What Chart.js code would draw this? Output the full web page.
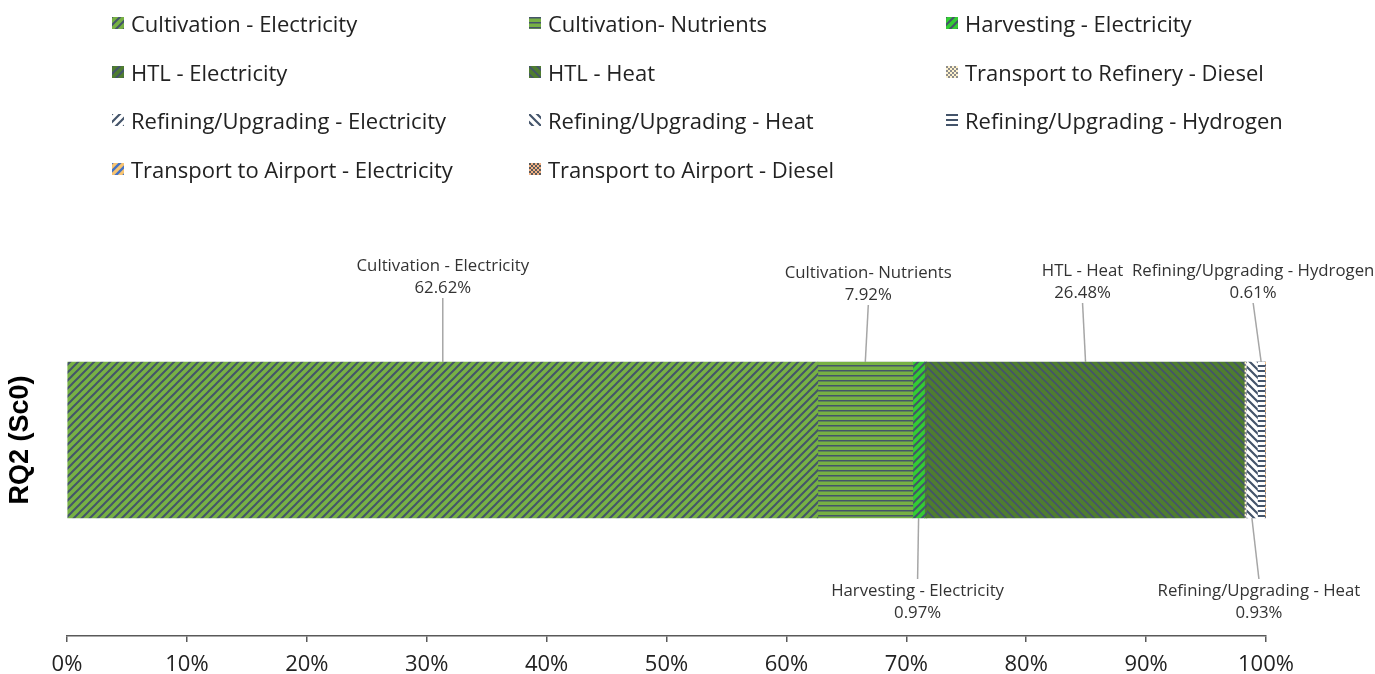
<!DOCTYPE html>
<html>
<head>
<meta charset="utf-8">
<script src="https://cdn.jsdelivr.net/npm/chart.js@4.4.1/dist/chart.umd.min.js"></script>
<style>
  body { margin: 0; background: #fff; }
  #wrap { position: relative; width: 1375px; height: 674px; }
  #legend { position: absolute; left: 0; top: 0; width: 1375px; height: 200px; font-family: "Open Sans", sans-serif; font-size: 22px; color: #222; }
  .item { position: absolute; display: flex; align-items: center; white-space: nowrap; }
  .item canvas { width: 12px; height: 12px; margin-right: 7px; }
</style>
</head>
<body>
<div id="wrap">
  <canvas id="chart"></canvas>
  <div id="legend"></div>
</div>
<script>
const categories = ['RQ2 (Sc0)'];
const seriesNames = [
  'Cultivation - Electricity',
  'Cultivation- Nutrients',
  'Harvesting - Electricity',
  'HTL - Electricity',
  'HTL - Heat',
  'Transport to Refinery - Diesel',
  'Refining/Upgrading - Electricity',
  'Refining/Upgrading - Heat',
  'Refining/Upgrading - Hydrogen',
  'Transport to Airport - Electricity',
  'Transport to Airport - Diesel'
];
const seriesValues = [62.62, 7.92, 0.97, 0.20, 26.48, 0.12, 0.05, 0.93, 0.61, 0.02, 0.08];
const xTickStep = 10;

// fill looks: [background, stroke, kind, line width]
const fills = [
  ['#77b144', '#44546a', 'up', 2],
  ['#77b144', '#44546a', 'horiz', 1.5],
  ['#33cc33', '#44546a', 'up', 2],
  ['#4f7d30', '#44546a', 'up', 2],
  ['#4f7d30', '#44546a', 'down', 1.7],
  ['#fff2cc', '#8c8c8c', 'check', 1],
  ['#ffffff', '#44546a', 'up', 2.2],
  ['#ffffff', '#44546a', 'down', 2.2],
  ['#ffffff', '#44546a', 'horiz', 2],
  ['#f8c471', '#4472c4', 'up', 2.4],
  ['#f4b183', '#5a5a5a', 'check', 1]
];

// which segments get a callout: side, text x shift, distance of text from bar edge
const callouts = {
  0: { side: 'above', dx: 0,  dy: 74 },
  1: { side: 'above', dx: 3,  dy: 67 },
  2: { side: 'below', dx: -1, dy: 73 },
  4: { side: 'above', dx: -3, dy: 69 },
  7: { side: 'below', dx: 7,  dy: 73 },
  8: { side: 'above', dx: -8, dy: 69 }
};

function makePattern(bg, fg, kind, lw) {
  const s = kind === 'horiz' ? 5 : (kind === 'check' ? 4 : 8);
  const c = document.createElement('canvas');
  c.width = s; c.height = s;
  const g = c.getContext('2d');
  g.fillStyle = bg;
  g.fillRect(0, 0, s, s);
  g.strokeStyle = fg;
  g.fillStyle = fg;
  g.lineWidth = lw;
  if (kind === 'up' || kind === 'down') {
    if (kind === 'down') { g.translate(s, 0); g.scale(-1, 1); }
    g.beginPath();
    g.moveTo(-s, s); g.lineTo(s, -s);
    g.moveTo(0, s * 2); g.lineTo(s * 2, 0);
    g.moveTo(0, s); g.lineTo(s, 0);
    g.stroke();
  } else if (kind === 'horiz') {
    g.fillRect(0, 0, s, lw);
  } else {
    g.fillRect(0, 0, 2, 2);
    g.fillRect(2, 2, 2, 2);
  }
  return g.createPattern(c, 'repeat');
}

const patterns = fills.map(f => makePattern(f[0], f[1], f[2], f[3]));

// legend, three columns
const legend = document.getElementById('legend');
seriesNames.forEach((name, i) => {
  const col = i % 3, row = Math.floor(i / 3);
  const div = document.createElement('div');
  div.className = 'item';
  div.style.left = (112 + col * 417) + 'px';
  div.style.top = (8 + row * 48.7) + 'px';
  const ic = document.createElement('canvas');
  ic.width = 12; ic.height = 12;
  const g = ic.getContext('2d');
  g.fillStyle = patterns[i];
  g.fillRect(0, 0, 12, 12);
  div.appendChild(ic);
  const sp = document.createElement('span');
  sp.textContent = name;
  div.appendChild(sp);
  legend.appendChild(div);
});

const calloutPlugin = {
  id: 'callouts',
  afterDatasetsDraw(chart) {
    const ctx = chart.ctx;
    ctx.save();
    ctx.font = '16.8px "Open Sans", sans-serif';
    ctx.textAlign = 'center';
    ctx.textBaseline = 'middle';
    Object.keys(callouts).forEach(k => {
      const i = +k, cfg = callouts[k];
      const el = chart.getDatasetMeta(i).data[0];
      const p = el.getProps(['x', 'y', 'base', 'height'], true);
      const cx = (p.x + p.base) / 2;
      const top = p.y - p.height / 2, bottom = p.y + p.height / 2;
      const tx = cx + cfg.dx;
      const txt1 = seriesNames[i];
      const txt2 = seriesValues[i].toFixed(2) + '%';
      let y1, y2, ls, le;
      if (cfg.side === 'above') {
        y2 = top - cfg.dy; y1 = y2 - 22;
        ls = [tx, y2 + 10]; le = [cx, top];
      } else {
        y1 = bottom + cfg.dy; y2 = y1 + 22;
        ls = [cx, bottom]; le = [tx, y1 - 12];
      }
      ctx.strokeStyle = '#a6a6a6';
      ctx.lineWidth = 1.5;
      ctx.beginPath();
      ctx.moveTo(ls[0], ls[1]);
      ctx.lineTo(le[0], le[1]);
      ctx.stroke();
      ctx.fillStyle = '#333';
      ctx.fillText(txt1, tx, y1);
      ctx.fillText(txt2, tx, y2);
    });
    ctx.restore();
  }
};

new Chart(document.getElementById('chart'), {
  type: 'bar',
  data: {
    labels: categories,
    datasets: seriesNames.map((name, i) => ({
      label: name,
      data: [seriesValues[i]],
      backgroundColor: patterns[i],
      borderWidth: 0,
      barThickness: 156
    }))
  },
  options: {
    indexAxis: 'y',
    responsive: true,
    maintainAspectRatio: false,
    animation: false,
    layout: { padding: { top: 244, right: 109, left: 0, bottom: 0 } },
    plugins: { legend: { display: false }, tooltip: { enabled: false } },
    scales: {
      x: {
        stacked: true,
        min: 0,
        max: 100,
        ticks: {
          stepSize: xTickStep,
          callback: v => v + '%',
          color: '#222',
          padding: 10,
          font: { family: '"Open Sans", sans-serif', size: 22 }
        },
        grid: { display: true, drawOnChartArea: false, drawTicks: true, tickLength: 6, color: '#595959', lineWidth: 1.5 },
        border: { display: true, color: '#595959', width: 1.5 },
        afterFit(scale) { scale.height = 38; }
      },
      y: {
        stacked: true,
        ticks: { display: false },
        grid: { display: false },
        border: { display: false },
        title: {
          display: true,
          text: categories[0],
          color: '#000',
          padding: { top: 4, bottom: 0 },
          font: { family: '"Liberation Sans", Arial, sans-serif', size: 27, weight: 'bold' }
        },
        afterFit(scale) { scale.width = 67; }
      }
    }
  },
  plugins: [calloutPlugin]
});
</script>
</body>
</html>
